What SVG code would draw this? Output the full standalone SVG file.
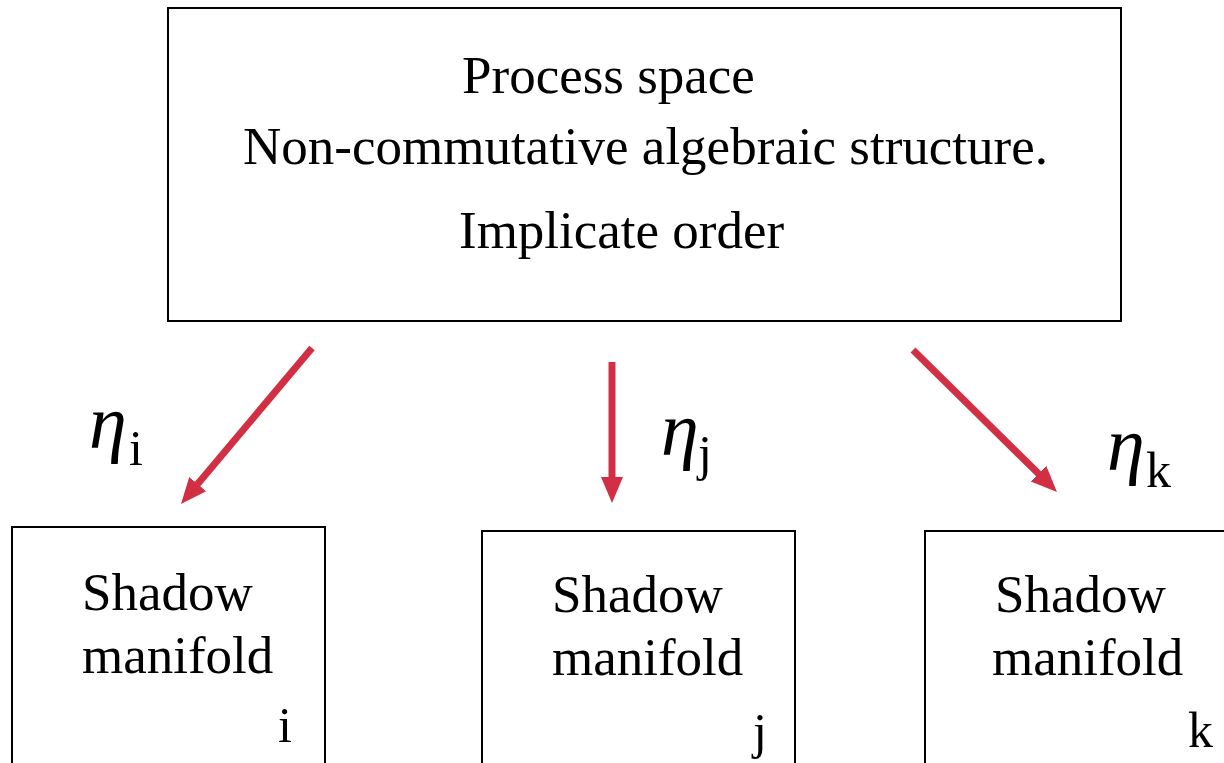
<svg xmlns="http://www.w3.org/2000/svg" width="1224" height="763" viewBox="0 0 1224 763">
<style>
  .box { fill: #fff; stroke: #000; stroke-width: 2; }
  .t { font-family: "Liberation Serif", "Times New Roman", serif; fill: #000; }
  .big { font-size: 53px; }
  .sub { font-size: 50px; }
  .eta { font-family: "Liberation Serif", "Times New Roman", serif; font-style: italic; font-size: 76px; fill: #000; }
  .esub { font-family: "Liberation Serif", "Times New Roman", serif; font-size: 50px; fill: #000; }
  .arrow { stroke: #D22E44; stroke-width: 7; fill: none; marker-end: url(#head); }
</style>
<defs>
  <marker id="head" markerUnits="userSpaceOnUse" markerWidth="30" markerHeight="26" viewBox="0 -13 30 26" refX="2" refY="0" orient="auto">
    <path d="M0,-11 L26,0 L0,11 z" fill="#D22E44"/>
  </marker>
</defs>
<rect width="1224" height="763" fill="#fff"/>
<g id="process-space">
  <rect class="box" x="168" y="8" width="953" height="313"/>
  <text class="t big" x="462" y="93">Process space</text>
  <text class="t big" x="243" y="164">Non-commutative algebraic structure.</text>
  <text class="t big" x="459" y="248">Implicate order</text>
</g>
<g id="shadow-i">
  <rect class="box" x="12" y="527" width="313" height="260"/>
  <text class="t big" x="82" y="610">Shadow</text>
  <text class="t big" x="82" y="673">manifold</text>
  <text class="t sub" x="278" y="742">i</text>
</g>
<g id="shadow-j">
  <rect class="box" x="482" y="531" width="313" height="260"/>
  <text class="t big" x="552" y="612">Shadow</text>
  <text class="t big" x="552" y="675">manifold</text>
  <text class="t sub" x="753" y="748">j</text>
</g>
<g id="shadow-k">
  <rect class="box" x="925" y="531" width="330" height="260"/>
  <text class="t big" x="995" y="612">Shadow</text>
  <text class="t big" x="992" y="675">manifold</text>
  <text class="t sub" x="1188" y="747">k</text>
</g>
<g id="connectors">
  <line class="arrow" x1="312" y1="348" x2="196.4" y2="485.6"/>
  <line class="arrow" x1="612" y1="362" x2="612" y2="479"/>
  <line class="arrow" x1="913" y1="350" x2="1039.9" y2="475.1"/>
</g>
<g id="labels">
  <text x="89" y="448"><tspan class="eta">η</tspan><tspan class="esub" x="129" y="465">i</tspan></text>
  <text x="661" y="455"><tspan class="eta">η</tspan><tspan class="esub" x="698" y="470">j</tspan></text>
  <text x="1107" y="470"><tspan class="eta">η</tspan><tspan class="esub" x="1146" y="487">k</tspan></text>
</g>
</svg>
